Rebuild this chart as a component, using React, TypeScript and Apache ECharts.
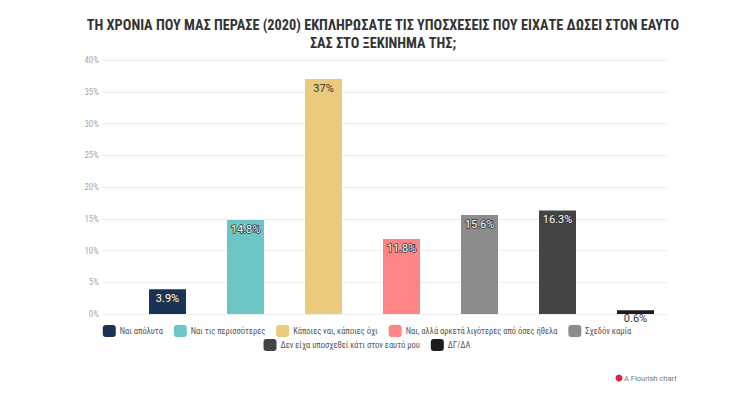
import React, { useEffect, useRef } from "react";
import * as echarts from "echarts";

const titleLines = [
  "ΤΗ ΧΡΟΝΙΑ ΠΟΥ ΜΑΣ ΠΕΡΑΣΕ (2020) ΕΚΠΛΗΡΩΣΑΤΕ ΤΙΣ ΥΠΟΣΧΕΣΕΙΣ ΠΟΥ ΕΙΧΑΤΕ ΔΩΣΕΙ ΣΤΟΝ ΕΑΥΤΟ",
  "ΣΑΣ ΣΤΟ ΞΕΚΙΝΗΜΑ ΤΗΣ;",
];
const categories = [
  "Ναι απόλυτα",
  "Ναι τις περισσότερες",
  "Κάποιες ναι, κάποιες όχι",
  "Ναι, αλλά αρκετά λιγότερες από όσες ήθελα",
  "Σχεδόν καμία",
  "Δεν είχα υποσχεθεί κάτι στον εαυτό μου",
  "ΔΓ/ΔΑ",
];
const values = [3.9, 14.8, 37, 11.8, 15.6, 16.3, 0.6];
const colors = ["#1b3257", "#6cc6c6", "#ebca7c", "#fd8585", "#8c8c8c", "#444444", "#1c1c1c"];
const yTicks = [0, 5, 10, 15, 20, 25, 30, 35, 40];

const FONT = "Roboto, sans-serif";
const NARROW = "'Liberation Sans Narrow', 'Roboto Condensed', Roboto, sans-serif";

export default function App() {
  const ref = useRef<HTMLDivElement>(null);
  useEffect(() => {
    if (!ref.current) return;
    const chart = echarts.init(ref.current, undefined, { renderer: "svg" });
    const series = categories.map((name, i) => ({
      name,
      type: "bar",
      xAxisIndex: 1,
      yAxisIndex: 1,
      stack: "all",
      barWidth: 37,
      itemStyle: { color: colors[i] },
      data: categories.map((_, j) => (j === i ? values[i] : "-")),
      label: {
        show: true,
        position: i === 6 ? "bottom" : "insideTop",
        distance: i === 6 ? -1 : 4,
        formatter: (p: any) => p.value + "%",
        fontFamily: FONT,
        fontSize: 11,
        color: i === 2 || i === 6 ? "#333" : "#fff",
        textBorderColor: i === 2 || i === 6 ? "transparent" : "#333",
        textBorderWidth: i === 2 || i === 6 ? 0 : 1.5,
      },
    }));
    const legendBase = {
      left: "center",
      icon: "roundRect",
      itemWidth: 13,
      itemHeight: 12,
      itemGap: 11,
      textStyle: { fontFamily: NARROW, fontSize: 8.5, color: "#555", padding: [0, 0, 0, -1] },
      selectedMode: false,
    };
    chart.setOption({
      animation: false,
      title: {
        text: titleLines.join("\n"),
        left: 378,
        textAlign: "center",
        top: 11,
        textStyle: {
          fontFamily: NARROW,
          fontSize: 14.3,
          fontWeight: "bold",
          color: "#333",
          lineHeight: 18,
        },
      },
      grid: [
        { left: 102, right: 67, top: 60, bottom: 81 },
        { left: 128.5, right: 59.5, top: 60, bottom: 81 },
      ],
      xAxis: [
        { type: "category", gridIndex: 0, data: categories, show: false },
        { type: "category", gridIndex: 1, data: categories, show: false },
      ],
      yAxis: [
        {
          type: "value",
          gridIndex: 0,
          min: yTicks[0],
          max: yTicks[yTicks.length - 1],
          interval: 5,
          axisLine: { show: false },
          axisTick: { show: false },
          axisLabel: {
            formatter: "{value}%",
            color: "#aaa",
            fontSize: 9,
            fontFamily: NARROW,
            margin: 3,
          },
          splitLine: { lineStyle: { color: "#eeeeee", width: 1 } },
        },
        { type: "value", gridIndex: 1, min: 0, max: 40, show: false },
      ],
      legend: [
        { ...legendBase, data: categories.slice(0, 5), top: 320 },
        { ...legendBase, data: categories.slice(5), top: 334 },
      ],
      graphic: [
        { type: "circle", shape: { cx: 619, cy: 378, r: 3.5 }, style: { fill: "#d7263d" } },
        {
          type: "text",
          x: 624,
          y: 378,
          style: {
            text: "A Flourish chart",
            fontFamily: FONT,
            fontSize: 7.5,
            fill: "#777",
            verticalAlign: "middle",
          },
        },
      ],
      series,
    });
    return () => chart.dispose();
  }, []);
  return <div ref={ref} style={{ width: 734, height: 395, position: "absolute", left: 0, top: 0 }} />;
}
